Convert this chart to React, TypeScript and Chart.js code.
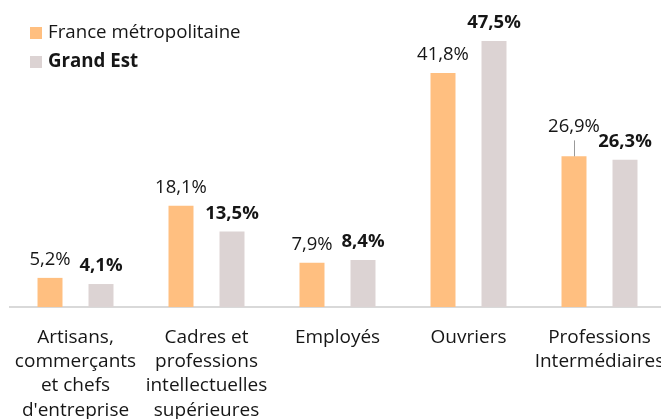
import React, { useEffect, useRef } from "react";
import { Chart, registerables } from "chart.js";

Chart.register(...registerables);

const categories: string[][] = [
  ["Artisans,", "commerçants", "et chefs", "d'entreprise"],
  ["Cadres et", "professions", "intellectuelles", "supérieures"],
  ["Employés"],
  ["Ouvriers"],
  ["Professions", "Intermédiaires"],
];
const seriesNames = ["France métropolitaine", "Grand Est"];
const franceValues = [5.2, 18.1, 7.9, 41.8, 26.9];
const grandEstValues = [4.1, 13.5, 8.4, 47.5, 26.3];

const ORANGE = "#FFBF80";
const GREY = "#DCD3D3";
const TEXT = "#161616";
const FONT = '"Open Sans", sans-serif';
const LEADER_SERIES = 0;
const LEADER_INDEX = 4;
const SHIFT = 30;

const fmt = (v: number) => v.toFixed(1).replace(".", ",") + "%";

const labelPlugin = {
  id: "valueLabels",
  afterDatasetsDraw(chart: any) {
    const ctx = chart.ctx;
    ctx.save();
    ctx.textAlign = "center";
    ctx.textBaseline = "middle";
    ctx.fillStyle = TEXT;
    chart.data.datasets.forEach((ds: any, di: number) => {
      const meta = chart.getDatasetMeta(di);
      meta.data.forEach((bar: any, i: number) => {
        const v = ds.data[i] as number;
        let y = bar.y - 18;
        if (di === LEADER_SERIES && i === LEADER_INDEX) {
          y = bar.y - 30;
          ctx.save();
          ctx.strokeStyle = "#9a9a9a";
          ctx.lineWidth = 1;
          ctx.beginPath();
          ctx.moveTo(Math.round(bar.x) + 0.5, bar.y);
          ctx.lineTo(Math.round(bar.x) + 0.5, y + 14);
          ctx.stroke();
          ctx.restore();
        }
        ctx.font = `${di === 1 ? "bold " : ""}18.5px ${FONT}`;
        ctx.fillText(fmt(v), bar.x, y);
      });
    });
    ctx.restore();
  },
  afterDraw(chart: any) {
    const ctx = chart.ctx;
    ctx.save();
    ctx.textBaseline = "middle";
    ctx.textAlign = "left";
    const items = [
      { color: ORANGE, y: 27, bold: false },
      { color: GREY, y: 56, bold: true },
    ];
    items.forEach((it, k) => {
      ctx.fillStyle = it.color;
      ctx.fillRect(30 + SHIFT, it.y, 12, 12);
      ctx.fillStyle = TEXT;
      ctx.font = `${it.bold ? "bold " : ""}18.7px ${FONT}`;
      ctx.fillText(seriesNames[k], 48 + SHIFT, it.y + 6);
    });
    ctx.restore();
  },
};

export default function App() {
  const ref = useRef<HTMLCanvasElement>(null);
  useEffect(() => {
    if (!ref.current) return;
    const chart = new Chart(ref.current, {
      type: "bar",
      data: {
        labels: categories,
        datasets: [
          {
            label: seriesNames[0],
            data: franceValues,
            backgroundColor: ORANGE,
            categoryPercentage: 0.7786,
            barPercentage: 0.49,
          },
          {
            label: seriesNames[1],
            data: grandEstValues,
            backgroundColor: GREY,
            categoryPercentage: 0.7786,
            barPercentage: 0.49,
          },
        ],
      },
      options: {
        responsive: false,
        animation: false,
        layout: { padding: { left: 10 + SHIFT, right: 35, top: 27, bottom: 0 } },
        plugins: {
          legend: { display: false },
          tooltip: { enabled: false },
        },
        scales: {
          x: {
            grid: { display: false, drawTicks: false },
            border: { display: true, color: "#D9D9D9", width: 2 },
            ticks: {
              color: TEXT,
              padding: 18,
              maxRotation: 0,
              autoSkip: false,
              font: { family: FONT, size: 19, lineHeight: "24.4px" },
            },
            afterFit: (scale: any) => {
              scale.height = 112;
            },
          },
          y: {
            display: false,
            min: 0,
            max: 50,
          },
        },
      },
      plugins: [labelPlugin],
    });
    return () => chart.destroy();
  }, []);
  return (
    <div
      style={{
        position: "fixed",
        left: 0,
        top: 0,
        width: 661,
        height: 419,
        overflow: "hidden",
        background: "#fff",
      }}
    >
      <canvas
        ref={ref}
        width={730}
        height={419}
        style={{ display: "block", marginLeft: -SHIFT }}
      />
    </div>
  );
}
